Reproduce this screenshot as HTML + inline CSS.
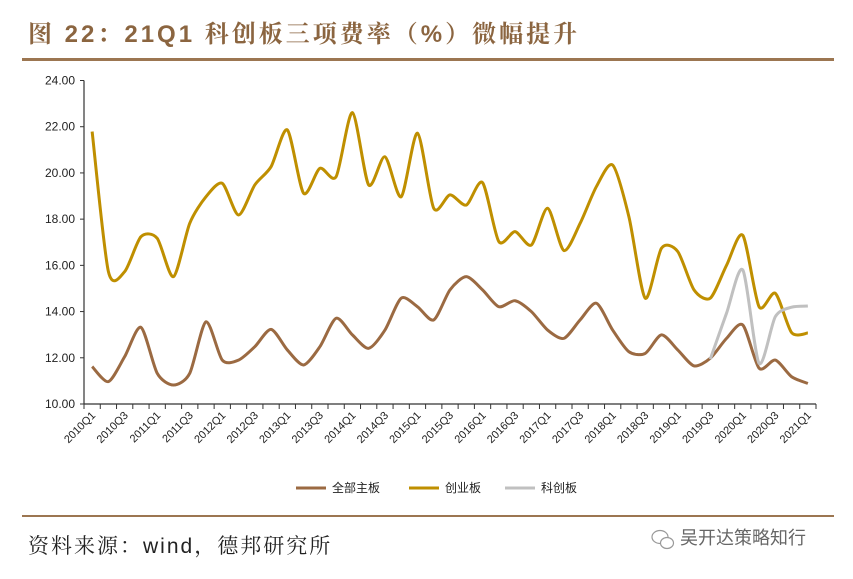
<!DOCTYPE html>
<html><head><meta charset="utf-8"><style>
body{margin:0;background:#fff;width:853px;height:574px;overflow:hidden;font-family:"Liberation Sans","Noto Sans CJK SC",sans-serif}
</style></head><body>
<svg width="853" height="574" xmlns="http://www.w3.org/2000/svg">
<text x="28" y="42" font-size="24" font-weight="bold" letter-spacing="3" fill="#8b6540" font-family="'Liberation Sans','Noto Serif CJK SC',serif">图 22：21Q1 科创板三项费率（%）微幅提升</text>
<rect x="22" y="58" width="812" height="3" fill="#9c7651"/>
<g id="yaxis"></g>
<g id="xaxis"></g>
<g id="series"></g>
<g id="legend"></g>
<rect x="22" y="515" width="812" height="2" fill="#9c7651"/>
<text x="28" y="553" font-size="21" letter-spacing="2" fill="#222" font-family="'Liberation Sans','Noto Serif CJK SC',serif">资料来源：wind，德邦研究所</text>
<g><ellipse cx="660" cy="537" rx="8" ry="6.5" fill="none" stroke="#999" stroke-width="1.2"/><ellipse cx="667" cy="543" rx="6.5" ry="5.5" fill="#fff" stroke="#999" stroke-width="1.2"/></g>
<text x="680" y="544" font-size="18" fill="#666">吴开达策略知行</text>
</svg>
<script>
const categories=[];for(let y=2010;y<=2021;y++)for(let q=1;q<=4;q++){if(y===2021&&q>1)break;categories.push(y+"Q"+q);}
const yTicks=[10,12,14,16,18,20,22,24];
const mainBoard=[11.62,10.97,12.05,13.32,11.33,10.82,11.33,13.56,11.9,11.9,12.48,13.23,12.34,11.69,12.48,13.71,12.99,12.41,13.2,14.58,14.21,13.64,14.94,15.51,14.94,14.21,14.47,14.0,13.2,12.84,13.64,14.36,13.2,12.26,12.19,12.99,12.34,11.65,11.98,12.84,13.42,11.55,11.9,11.18,10.89];
const chinext=[21.79,15.73,15.73,17.24,17.17,15.51,17.82,18.97,19.55,18.18,19.48,20.27,21.86,19.12,20.2,19.84,22.61,19.48,20.7,18.97,21.72,18.47,19.05,18.61,19.58,17.03,17.46,16.88,18.47,16.64,17.82,19.41,20.34,18.1,14.58,16.74,16.6,14.94,14.58,16.0,17.3,14.21,14.79,13.09,13.07];
const star=[null,null,null,null,null,null,null,null,null,null,null,null,null,null,null,null,null,null,null,null,null,null,null,null,null,null,null,null,null,null,null,null,null,null,null,null,null,null,11.94,13.93,15.8,11.76,13.78,14.19,14.24];
const seriesNames=["全部主板","创业板","科创板"];
const NS="http://www.w3.org/2000/svg";
const X0=84,X1=816,Y0=404,Y1=80.5,YMIN=10,YMAX=24;
const bw=(X1-X0)/categories.length;
const xs=i=>X0+bw*(i+0.5);
const ys=v=>Y0-(v-YMIN)/(YMAX-YMIN)*(Y0-Y1);
function mk(t,a,p){const e=document.createElementNS(NS,t);for(const k in a)e.setAttribute(k,a[k]);p.appendChild(e);return e;}
const ya=document.getElementById('yaxis'),xa=document.getElementById('xaxis'),sg=document.getElementById('series'),lg=document.getElementById('legend');
mk('line',{x1:X0,y1:Y1,x2:X0,y2:Y0,stroke:'#333','stroke-width':1.2},ya);
yTicks.forEach(v=>{mk('line',{x1:X0-4,y1:ys(v),x2:X0,y2:ys(v),stroke:'#333'},ya);
const t=mk('text',{x:X0-9,y:ys(v)+4,'text-anchor':'end','font-size':12,fill:'#222'},ya);t.textContent=v.toFixed(2);

});
mk('line',{x1:X0,y1:Y0,x2:X1,y2:Y0,stroke:'#333','stroke-width':1.2},xa);
for(let i=0;i<=categories.length;i++)mk('line',{x1:X0+bw*i,y1:Y0,x2:X0+bw*i,y2:Y0+5,stroke:'#333'},xa);
categories.forEach((c,i)=>{if(i%2)return;const x=xs(i)+4,y=Y0+12;
const t=mk('text',{x:x,y:y,'text-anchor':'end','font-size':11,fill:'#222',transform:`rotate(-45 ${x} ${y})`},xa);t.textContent=c;

});
function path(data){const pts=[];data.forEach((v,i)=>{if(v!=null)pts.push([xs(i),ys(v)]);});
let d=`M${pts[0][0]},${pts[0][1]}`;const k=0.13;
for(let i=0;i<pts.length-1;i++){const p0=pts[i-1]||pts[i],p1=pts[i],p2=pts[i+1],p3=pts[i+2]||p2;
d+=` C${p1[0]+(p2[0]-p0[0])*k},${p1[1]+(p2[1]-p0[1])*k} ${p2[0]-(p3[0]-p1[0])*k},${p2[1]-(p3[1]-p1[1])*k} ${p2[0]},${p2[1]}`;}return d;}
const cols=['#9b6a42','#bf8f00','#c0c0c0'];
[mainBoard,chinext,star].forEach((s,j)=>{const p=mk('path',{d:path(s),fill:'none',stroke:cols[j],'stroke-width':3,'stroke-linejoin':'round'},sg);

});
const lx=[296,409,505];
seriesNames.forEach((n,j)=>{const g=mk('g',{},lg);


mk('line',{x1:lx[j],y1:488,x2:lx[j]+30,y2:488,stroke:cols[j],'stroke-width':3},g);
const t=mk('text',{x:lx[j]+36,y:492,'font-size':12,fill:'#222'},g);t.textContent=n;});
</script>
</body></html>
